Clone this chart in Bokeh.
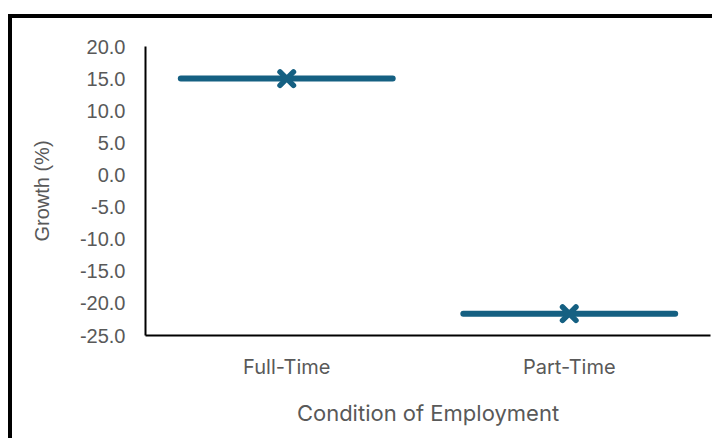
from bokeh.plotting import figure
from bokeh.models import FactorRange, Range1d, FixedTicker, NumeralTickFormatter, ColumnDataSource
from bokeh.transform import dodge
from bokeh.embed import file_html
from bokeh.resources import INLINE

categories = ["Full-Time", "Part-Time"]
growth = [15.0, -21.6]
y_ticks = [-25, -20, -15, -10, -5, 0, 5, 10, 15, 20]

COLOR = "#156082"
GREY = "#595959"

src = ColumnDataSource(dict(cat=categories, val=growth))

p = figure(
    x_range=FactorRange(factors=categories, range_padding=0),
    y_range=Range1d(-25, 20),
    width=704, height=424,
    output_backend="svg", toolbar_location=None,
    min_border_left=133, min_border_right=6, min_border_top=28, min_border_bottom=107,
)
p.styles = {"border-left": "4px solid #000000", "border-top": "4px solid #000000",
            "margin-top": "14px", "margin-left": "8px"}

p.outline_line_color = None
p.grid.visible = False
p.background_fill_color = "white"
p.border_fill_color = "white"

p.segment(x0=dodge("cat", -0.375, range=p.x_range), x1=dodge("cat", 0.375, range=p.x_range),
          y0="val", y1="val", source=src, line_color=COLOR, line_width=6, line_cap="round")
p.scatter(x="cat", y="val", source=src, marker="x", size=19, line_color=COLOR, line_width=5.5,
          line_cap="round")

p.yaxis.ticker = FixedTicker(ticks=y_ticks)
p.yaxis.formatter = NumeralTickFormatter(format="0.0")
for ax in (p.xaxis[0], p.yaxis[0]):
    ax.axis_line_color = "black"
    ax.axis_line_width = 2
    ax.major_tick_line_color = None
    ax.minor_tick_line_color = None
    ax.major_label_text_color = GREY
    ax.axis_label_text_color = GREY
    ax.axis_label_text_font_style = "normal"

p.yaxis.major_label_text_font = "Liberation Sans"
p.yaxis.major_label_text_font_size = "20px"
p.yaxis.major_label_standoff = 14
p.yaxis.axis_label = "Growth (%)"
p.yaxis.axis_label_text_font = "Liberation Sans"
p.yaxis.axis_label_text_font_size = "20px"
p.yaxis.axis_label_standoff = 24

p.xaxis.major_label_text_font = "Inter"
p.xaxis.major_label_text_font_size = "20px"
p.xaxis.major_label_standoff = 13
p.xaxis.axis_label = "Condition of Employment"
p.xaxis.axis_label_text_font = "Inter"
p.xaxis.axis_label_text_font_size = "22px"
p.xaxis.axis_label_standoff = 18

open("out.html", "w").write(file_html(p, INLINE))
